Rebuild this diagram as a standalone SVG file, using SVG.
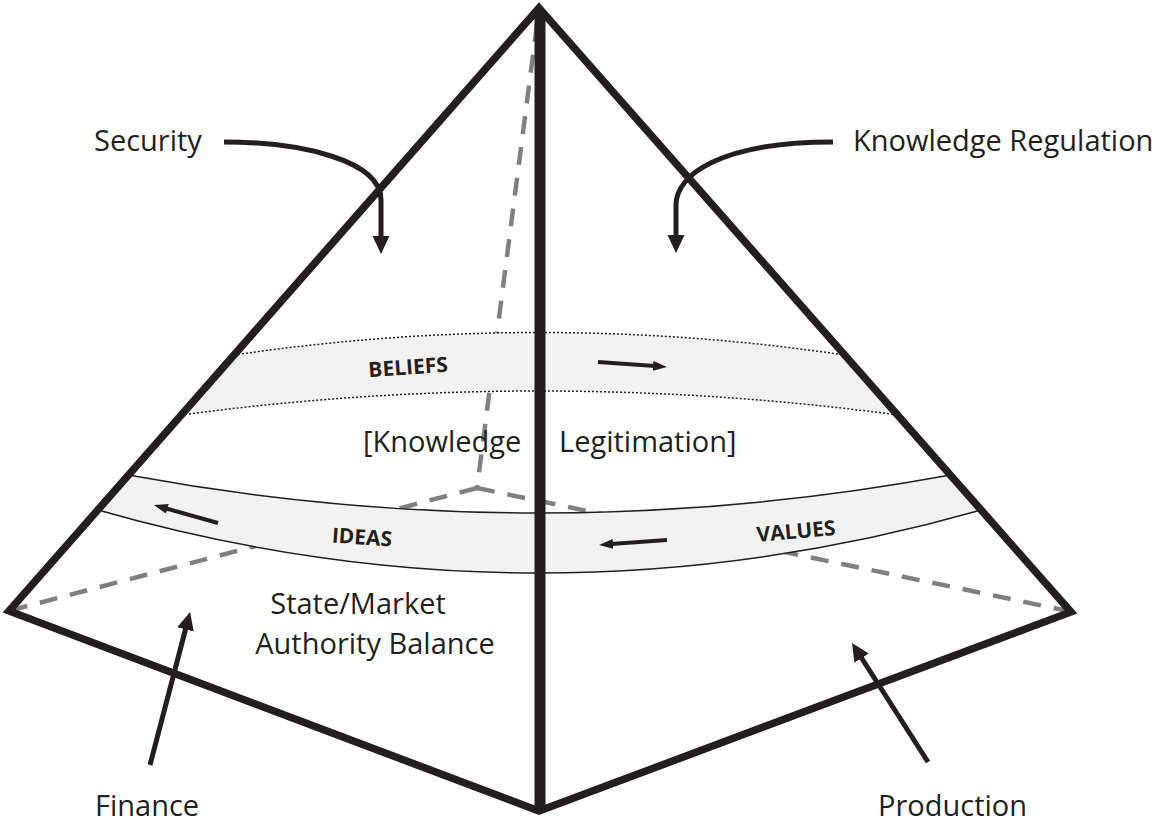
<svg xmlns="http://www.w3.org/2000/svg" width="1155" height="825" viewBox="0 0 1155 825">
<style>
.lbl{font-family:"Open Sans","Liberation Sans",sans-serif;font-size:29px;fill:#231f20}
.band{font-family:"Open Sans","Liberation Sans",sans-serif;font-size:21px;font-weight:bold;fill:#231f20}
.dash{fill:none;stroke:#808080;stroke-width:4.5;stroke-dasharray:18 13}
.edge{fill:none;stroke:#231f20;stroke-width:7.5;stroke-linejoin:miter;stroke-miterlimit:10}
.big{fill:none;stroke:#231f20;stroke-width:5}
.small{fill:none;stroke:#231f20;stroke-width:4}
.bandfill{fill:#f2f2f2;stroke:none}
.dot{fill:none;stroke:#231f20;stroke-width:1.5;stroke-dasharray:2 2}
.solid{fill:none;stroke:#231f20;stroke-width:1.5}
</style>
<defs>
<marker id="bigHead" markerUnits="userSpaceOnUse" markerWidth="18" markerHeight="18" refX="2" refY="8.5" orient="auto">
<path d="M0,0 L18,8.5 L0,17 Z" fill="#231f20"/>
</marker>
<marker id="smallHead" markerUnits="userSpaceOnUse" markerWidth="14" markerHeight="11" refX="2" refY="5" orient="auto">
<path d="M0,0 L14,5 L0,10 Z" fill="#231f20"/>
</marker>
</defs>
<rect width="1155" height="825" fill="#ffffff"/>

<g id="hidden-edges">
<path class="dash" d="M537,24 L477,488"/>
<path class="dash" d="M477,488 L12,610"/>
<path class="dash" d="M477,488 L1068,611"/>
</g>

<g id="band-beliefs">
<path class="bandfill" d="M234,355 Q539,310 845,355 L897.5,415 Q539,367 181,415 Z"/>
<path class="dot" d="M234,355 Q539,310 845,355"/>
<path class="dot" d="M181,415 Q539,367 897.5,415"/>
<text class="band" x="408" y="374.5" text-anchor="middle" transform="rotate(-4 408 367)">BELIEFS</text>
<path class="small" d="M598,362 L655,366.1" marker-end="url(#smallHead)"/>
</g>

<g id="band-ideas-values">
<path class="bandfill" d="M128.5,475 Q539,551 950.3,475 L981.2,510 Q539,636 98,510 Z"/>
<path class="solid" d="M128.5,475 Q539,551 950.3,475"/>
<path class="solid" d="M98,510 Q539,636 981.2,510"/>
<text class="band" x="362" y="544.5" text-anchor="middle" transform="rotate(4 362 537)">IDEAS</text>
<text class="band" x="796" y="538.5" text-anchor="middle" transform="rotate(-5 796 531)">VALUES</text>
<path class="small" d="M218,523 L165.5,508.3" marker-end="url(#smallHead)"/>
<path class="small" d="M667,540 L611,544.1" marker-end="url(#smallHead)"/>
</g>

<g id="pyramid">
<path class="edge" d="M539,8 L1071,612 L539,811 L9,611 Z"/>
<path d="M540,12 L540,808" stroke="#231f20" stroke-width="11" fill="none"/>
</g>

<g id="connectors">
<path class="big" d="M224,142 C300,142 381,160 381,200 L381,238" marker-end="url(#bigHead)"/>
<path class="big" d="M833,142 C720,142 676,175 676,205 L676,237" marker-end="url(#bigHead)"/>
<path class="big" d="M150,765 L186,627.5" marker-end="url(#bigHead)"/>
<path class="big" d="M928,762 L860.6,656.5" marker-end="url(#bigHead)"/>
</g>

<g id="security"><text class="lbl" x="94" y="151">Security</text></g>
<g id="knowledge-regulation"><text class="lbl" x="853" y="151">Knowledge Regulation</text></g>
<g id="knowledge-legitimation">
<text class="lbl" x="363" y="452">[Knowledge</text>
<text class="lbl" x="559" y="452">Legitimation]</text>
</g>
<g id="state-market">
<text class="lbl" x="358" y="614" text-anchor="middle">State/Market</text>
<text class="lbl" x="375" y="654" text-anchor="middle">Authority Balance</text>
</g>
<g id="finance"><text class="lbl" x="95" y="816">Finance</text></g>
<g id="production"><text class="lbl" x="878" y="816">Production</text></g>
</svg>
